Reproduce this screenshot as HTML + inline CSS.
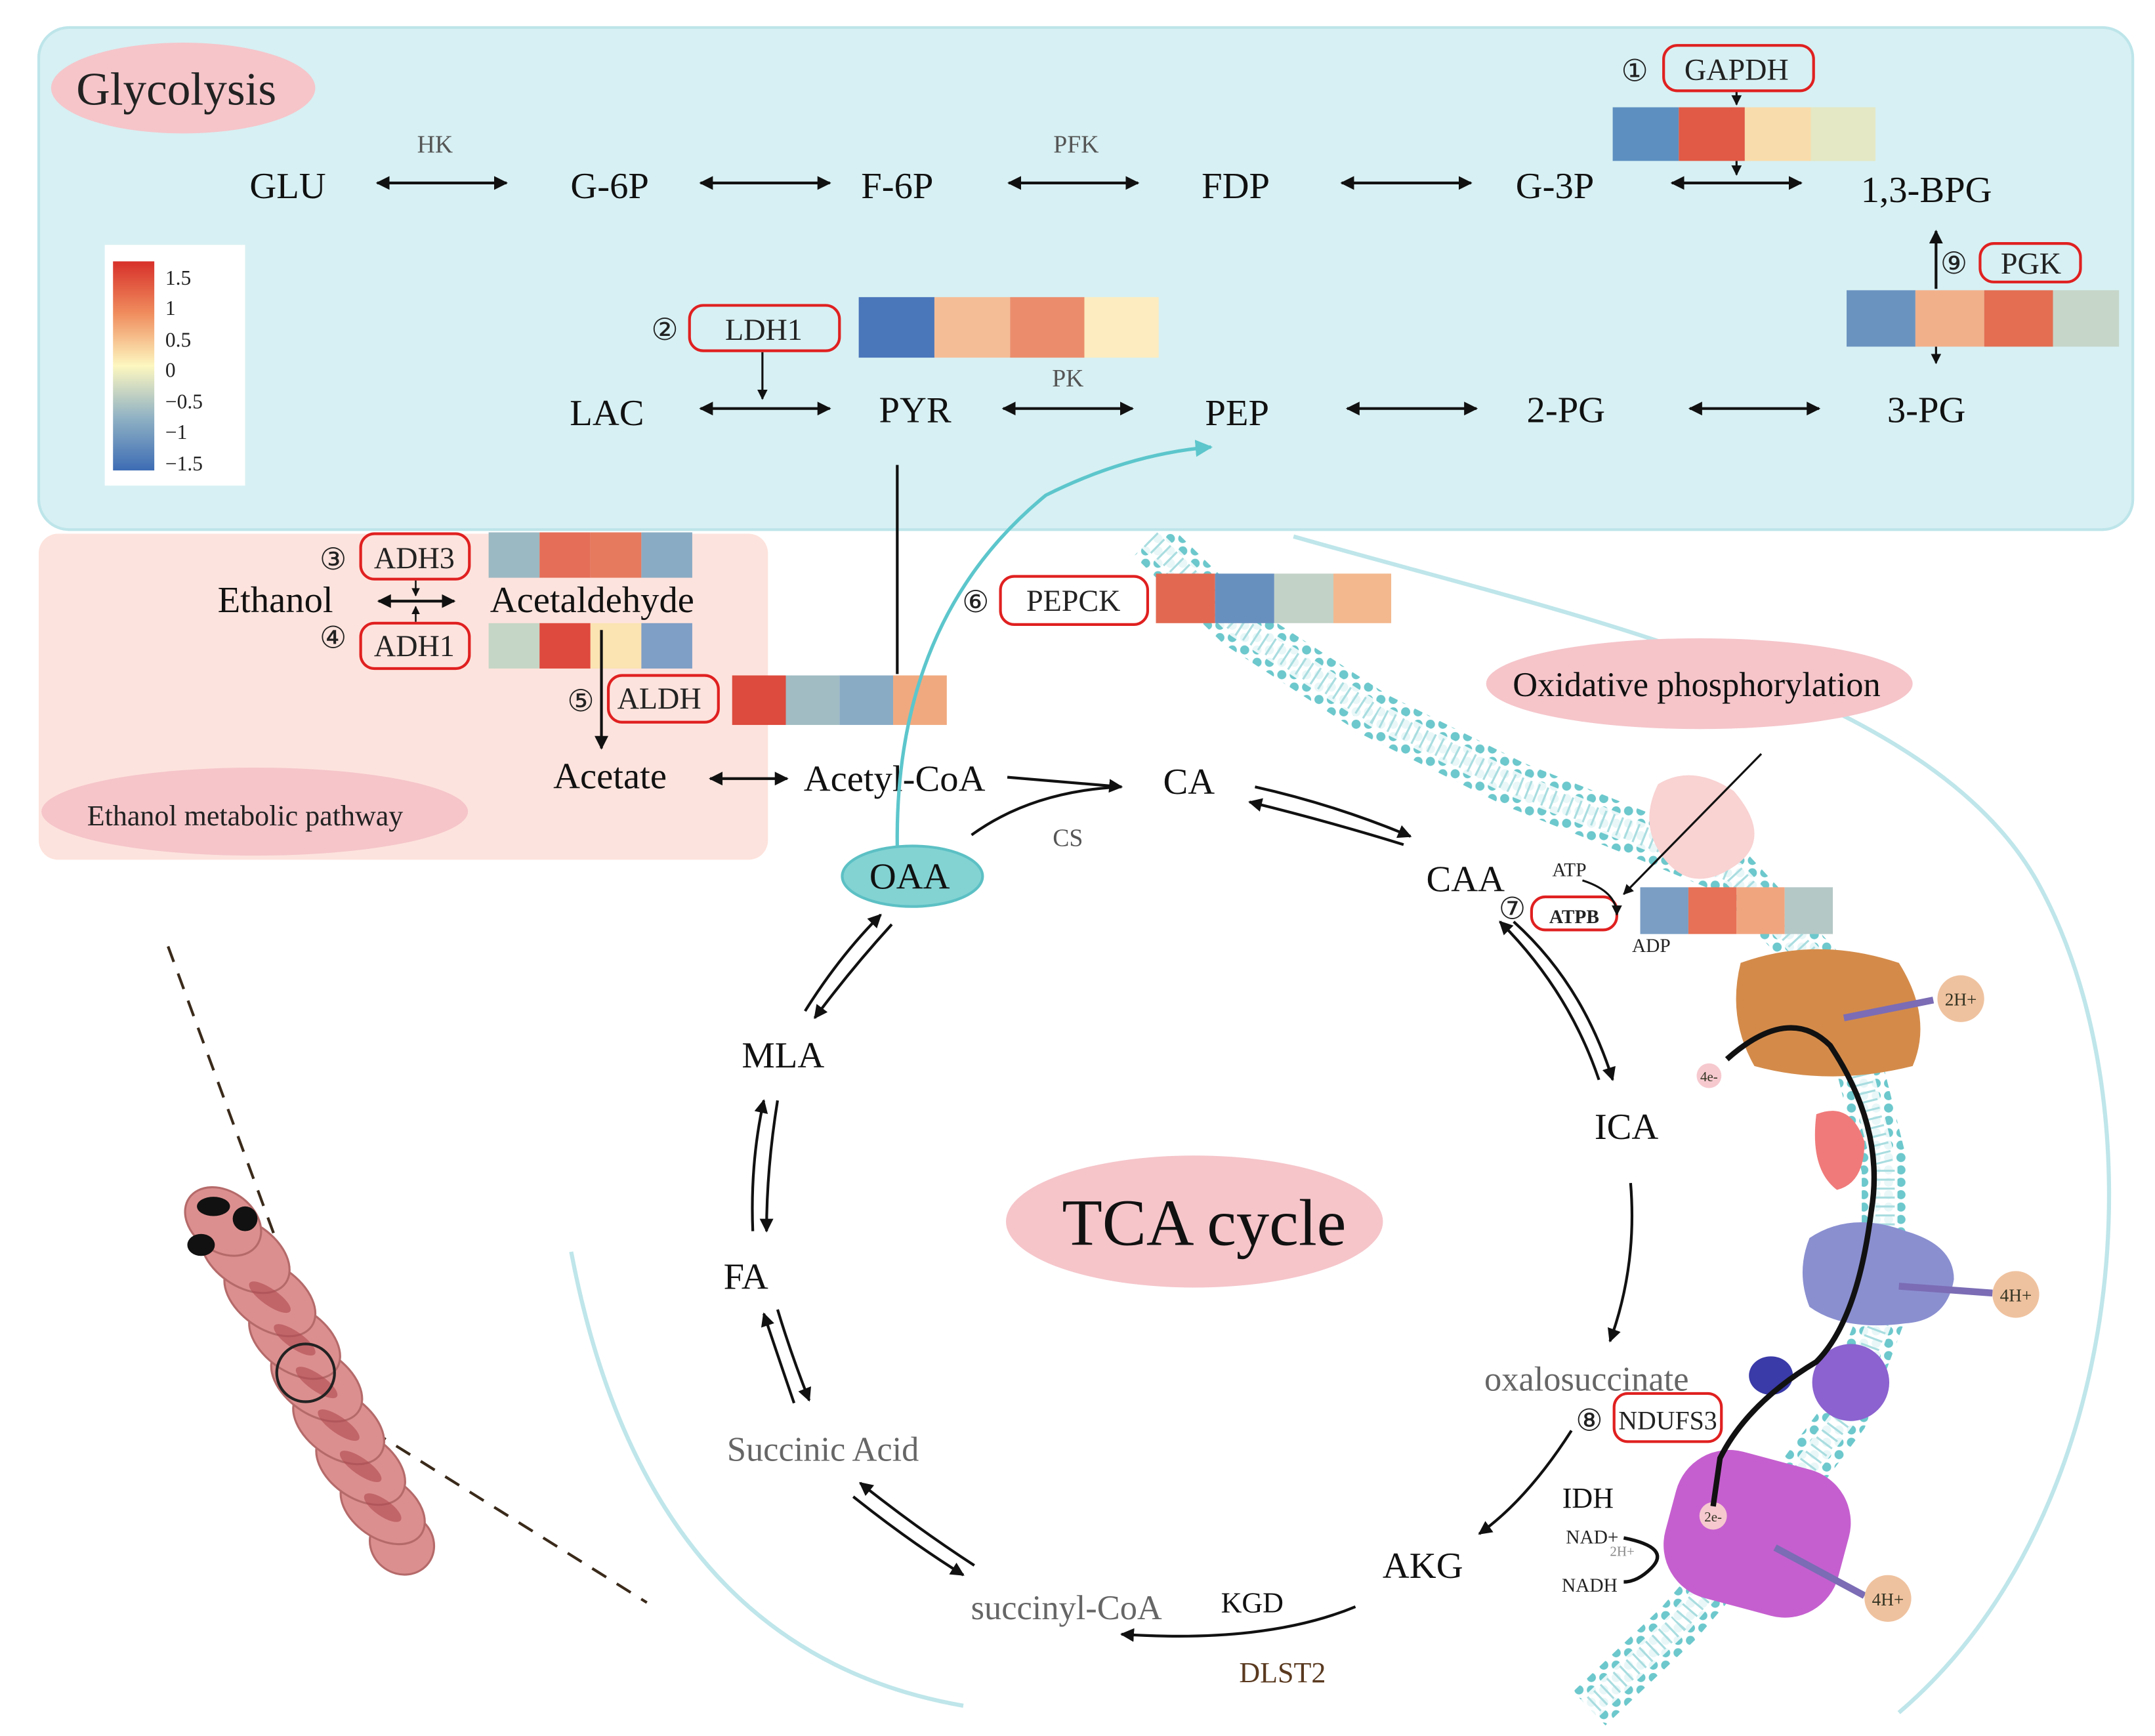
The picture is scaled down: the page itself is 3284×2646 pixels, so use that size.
<!DOCTYPE html>
<html><head><meta charset="utf-8"><style>
html,body{margin:0;padding:0;background:#fff;}
svg{display:block;}
text{font-family:"Liberation Serif",serif;}
</style></head><body>
<svg width="3284" height="2646" viewBox="0 0 1566 1262" xmlns="http://www.w3.org/2000/svg">
<defs>
<marker id="ah" viewBox="0 0 10 10" refX="9" refY="5" markerWidth="5" markerHeight="5" orient="auto-start-reverse"><path d="M0,0 L10,5 L0,10 z" fill="#111"/></marker>
<marker id="ahc" viewBox="0 0 10 10" refX="9" refY="5" markerWidth="5" markerHeight="5" orient="auto"><path d="M0,0 L10,5 L0,10 z" fill="#5cc6cc"/></marker>
<linearGradient id="lg" x1="0" y1="0" x2="0" y2="1">
<stop offset="0" stop-color="#d7302a"/><stop offset="0.25" stop-color="#f08d5e"/><stop offset="0.5" stop-color="#fdf7c0"/><stop offset="0.75" stop-color="#8fb1c4"/><stop offset="1" stop-color="#3d6cb4"/></linearGradient>
<pattern id="mem" width="9" height="9" patternUnits="userSpaceOnUse"><circle cx="4.5" cy="4.5" r="3.3" fill="#6cc8cc"/></pattern>
</defs>

<!-- cell boundary arcs -->
<path d="M415,910 Q470,1200 700,1240" fill="none" stroke="#bfe6ea" stroke-width="3"/>
<path d="M940,390 C1150,450 1400,500 1480,640 C1570,800 1550,1100 1380,1245" fill="none" stroke="#bfe6ea" stroke-width="3"/>

<!-- membrane -->
<path d="M836,392 L900,455 L1000,520 L1100,570 L1200,610 L1260,635 L1320,700 L1350,770 L1370,850 L1370,950 L1340,1030 L1280,1110 L1220,1180 L1155,1242" fill="none" stroke="url(#mem)" stroke-width="34"/>
<path d="M836,392 L900,455 L1000,520 L1100,570 L1200,610 L1260,635 L1320,700 L1350,770 L1370,850 L1370,950 L1340,1030 L1280,1110 L1220,1180 L1155,1242" fill="none" stroke="#ffffff" stroke-width="18" opacity="0.85"/>
<path d="M836,392 L900,455 L1000,520 L1100,570 L1200,610 L1260,635 L1320,700 L1350,770 L1370,850 L1370,950 L1340,1030 L1280,1110 L1220,1180 L1155,1242" fill="none" stroke="#a9dde0" stroke-width="14" stroke-dasharray="1.5 5"/>

<!-- Glycolysis panel -->
<rect x="28" y="20" width="1522" height="365" rx="22" fill="#d7f0f3" stroke="#bde5ea" stroke-width="2"/>
<!-- Ethanol panel -->
<rect x="28" y="388" width="530" height="237" rx="14" fill="#fde3dd"/>

<ellipse cx="133" cy="64" rx="96" ry="33" fill="#f5c5ca"/>
<text x="128" y="76" font-size="34" text-anchor="middle" fill="#222">Glycolysis</text>
<ellipse cx="185" cy="590" rx="155" ry="32" fill="#f5c5ca"/>
<text x="178" y="600" font-size="21" text-anchor="middle" fill="#222">Ethanol metabolic pathway</text>

<!-- legend -->
<rect x="76" y="178" width="102" height="175" fill="#fff"/>
<rect x="82" y="190" width="30" height="152" fill="url(#lg)"/>
<g font-family="Liberation Sans" font-size="15" fill="#222">
<text x="120" y="207">1.5</text><text x="120" y="229">1</text><text x="120" y="252">0.5</text><text x="120" y="274">0</text><text x="120" y="297">−0.5</text><text x="120" y="319">−1</text><text x="120" y="342">−1.5</text></g>

<!-- glycolysis nodes -->
<g font-size="27" fill="#111" text-anchor="middle">
<text x="209" y="144">GLU</text><text x="443" y="144">G-6P</text><text x="652" y="144">F-6P</text><text x="898" y="144">FDP</text><text x="1130" y="144">G-3P</text><text x="1400" y="147">1,3-BPG</text>
<text x="441" y="309">LAC</text><text x="665" y="307">PYR</text><text x="899" y="309">PEP</text><text x="1138" y="307">2-PG</text><text x="1400" y="307">3-PG</text>
</g>
<g font-size="18" fill="#555" text-anchor="middle"><text x="316" y="111">HK</text><text x="782" y="111">PFK</text><text x="776" y="281">PK</text></g>
<g stroke="#111" stroke-width="2" marker-start="url(#ah)" marker-end="url(#ah)">
<line x1="274" y1="133" x2="368" y2="133"/><line x1="509" y1="133" x2="603" y2="133"/><line x1="733" y1="133" x2="827" y2="133"/><line x1="975" y1="133" x2="1069" y2="133"/><line x1="1215" y1="133" x2="1309" y2="133"/>
<line x1="509" y1="297" x2="603" y2="297"/><line x1="729" y1="297" x2="823" y2="297"/><line x1="979" y1="297" x2="1073" y2="297"/><line x1="1228" y1="297" x2="1322" y2="297"/>
</g>
<line x1="1262" y1="66" x2="1262" y2="76" stroke="#111" stroke-width="1.5" marker-end="url(#ah)"/>
<line x1="1262" y1="117" x2="1262" y2="127" stroke="#111" stroke-width="1.5" marker-end="url(#ah)"/>
<line x1="1407" y1="210" x2="1407" y2="168" stroke="#111" stroke-width="2" marker-end="url(#ah)"/>
<line x1="1407" y1="252" x2="1407" y2="264" stroke="#111" stroke-width="1.5" marker-end="url(#ah)"/>
<line x1="554" y1="256" x2="554" y2="290" stroke="#111" stroke-width="1.5" marker-end="url(#ah)"/>
<line x1="652" y1="338" x2="652" y2="490" stroke="#111" stroke-width="2"/>

<!-- enzyme labels -->
<g font-size="22" fill="#222" text-anchor="middle">
<rect x="1209" y="33" width="109" height="33" rx="10" fill="none" stroke="#e02020" stroke-width="2"/><text x="1262" y="58">GAPDH</text><text x="1188" y="59">①</text>
<rect x="1439" y="177" width="73" height="28" rx="10" fill="none" stroke="#e02020" stroke-width="2"/><text x="1476" y="199">PGK</text><text x="1420" y="199">⑨</text>
<rect x="501" y="222" width="109" height="33" rx="10" fill="none" stroke="#e02020" stroke-width="2"/><text x="555" y="247">LDH1</text><text x="483" y="247">②</text>
<rect x="262" y="388" width="79" height="33" rx="10" fill="none" stroke="#e02020" stroke-width="2"/><text x="301" y="413">ADH3</text><text x="242" y="414">③</text>
<rect x="262" y="453" width="79" height="33" rx="10" fill="none" stroke="#e02020" stroke-width="2"/><text x="301" y="477">ADH1</text><text x="242" y="471">④</text>
<rect x="442" y="491" width="80" height="34" rx="10" fill="none" stroke="#e02020" stroke-width="2"/><text x="479" y="515">ALDH</text><text x="422" y="517">⑤</text>
<rect x="727" y="419" width="107" height="35" rx="10" fill="none" stroke="#e02020" stroke-width="2"/><text x="780" y="444">PEPCK</text><text x="709" y="445">⑥</text>
<rect x="1173" y="1013" width="78" height="35" rx="10" fill="none" stroke="#e02020" stroke-width="2"/><text x="1212" y="1039" font-size="19">NDUFS3</text><text x="1155" y="1040">⑧</text>
<rect x="1113" y="652" width="62" height="24" rx="10" fill="none" stroke="#e02020" stroke-width="2"/><text x="1144" y="671" font-size="14" font-weight="bold">ATPB</text><text x="1099" y="668">⑦</text>
</g>

<!-- heatmaps -->
<g>
<rect x="1172" y="78" width="48" height="39" fill="#5d8fc0"/><rect x="1220" y="78" width="48" height="39" fill="#e05a45"/><rect x="1268" y="78" width="48" height="39" fill="#f9dcab"/><rect x="1316" y="78" width="47" height="39" fill="#e4e8c4"/>
<rect x="1342" y="211" width="50" height="41" fill="#6a93c0"/><rect x="1392" y="211" width="50" height="41" fill="#f2b08a"/><rect x="1442" y="211" width="50" height="41" fill="#e36e52"/><rect x="1492" y="211" width="48" height="41" fill="#c6d6c9"/>
<rect x="624" y="216" width="55" height="44" fill="#4a76ba"/><rect x="679" y="216" width="55" height="44" fill="#f5bd96"/><rect x="734" y="216" width="54" height="44" fill="#eb8d6c"/><rect x="788" y="216" width="54" height="44" fill="#fcecc0"/>
<rect x="355" y="387" width="37" height="33" fill="#9bb9c2"/><rect x="392" y="387" width="37" height="33" fill="#e46e58"/><rect x="429" y="387" width="37" height="33" fill="#e67a5e"/><rect x="466" y="387" width="37" height="33" fill="#8aabc4"/>
<rect x="355" y="453" width="37" height="33" fill="#c5d6c6"/><rect x="392" y="453" width="37" height="33" fill="#df4a3e"/><rect x="429" y="453" width="37" height="33" fill="#fbe3b2"/><rect x="466" y="453" width="37" height="33" fill="#7f9fc6"/>
<rect x="532" y="491" width="39" height="36" fill="#dc4b3d"/><rect x="571" y="491" width="39" height="36" fill="#a1bcc3"/><rect x="610" y="491" width="39" height="36" fill="#8aabc4"/><rect x="649" y="491" width="39" height="36" fill="#f0a97f"/>
<rect x="840" y="417" width="43" height="36" fill="#e26851"/><rect x="883" y="417" width="43" height="36" fill="#6890bf"/><rect x="926" y="417" width="43" height="36" fill="#c2d2c6"/><rect x="969" y="417" width="42" height="36" fill="#f3b88e"/>
<rect x="1192" y="645" width="35" height="34" fill="#7a9ec4"/><rect x="1227" y="645" width="35" height="34" fill="#e67156"/><rect x="1262" y="645" width="35" height="34" fill="#f1a57f"/><rect x="1297" y="645" width="35" height="34" fill="#b4c8c6"/>
</g>

<!-- ethanol pathway -->
<g font-size="27" fill="#111"><text x="158" y="445">Ethanol</text><text x="356" y="445">Acetaldehyde</text><text x="402" y="573">Acetate</text><text x="584" y="575">Acetyl-CoA</text></g>
<line x1="275" y1="437" x2="330" y2="437" stroke="#111" stroke-width="2" marker-start="url(#ah)" marker-end="url(#ah)"/>
<line x1="302" y1="422" x2="302" y2="433" stroke="#111" stroke-width="1.2" marker-end="url(#ah)"/>
<line x1="302" y1="452" x2="302" y2="441" stroke="#111" stroke-width="1.2" marker-end="url(#ah)"/>
<line x1="437" y1="458" x2="437" y2="544" stroke="#111" stroke-width="2" marker-end="url(#ah)"/>
<line x1="516" y1="566" x2="572" y2="566" stroke="#111" stroke-width="2" marker-start="url(#ah)" marker-end="url(#ah)"/>

<!-- proteins -->
<path d="M1205,570 Q1230,555 1260,575 Q1290,610 1260,630 Q1230,650 1210,625 Q1190,600 1205,570z" fill="#f9d2d2"/>
<line x1="1280" y1="548" x2="1180" y2="650" stroke="#111" stroke-width="1.5" marker-end="url(#ah)"/>
<path d="M1265,700 Q1320,680 1380,700 Q1405,740 1390,775 Q1330,790 1275,775 Q1255,740 1265,700z" fill="#d48b4a"/>
<path d="M1320,810 Q1345,800 1355,830 Q1355,860 1335,865 Q1315,850 1320,810z" fill="#f07a7a"/>
<path d="M1315,900 Q1345,880 1385,895 Q1420,905 1420,930 Q1415,960 1385,962 Q1340,968 1315,950 Q1305,925 1315,900z" fill="#8a8fd0"/>
<ellipse cx="1345" cy="1005" rx="28" ry="28" fill="#8b62cf"/>
<ellipse cx="1287" cy="1000" rx="16" ry="14" fill="#3a3aa8"/>
<rect x="1212" y="1060" width="130" height="110" rx="40" fill="#c55fcf" transform="rotate(15 1277 1115)"/>
<line x1="1340" y1="740" x2="1405" y2="727" stroke="#7b6cb5" stroke-width="5"/>
<line x1="1380" y1="935" x2="1448" y2="940" stroke="#7b6cb5" stroke-width="5"/>
<line x1="1290" y1="1125" x2="1355" y2="1160" stroke="#7b6cb5" stroke-width="5"/>
<g font-size="13" fill="#332" text-anchor="middle">
<circle cx="1425" cy="726" r="17" fill="#efc29f"/><text x="1425" y="731">2H+</text>
<circle cx="1465" cy="941" r="17" fill="#efc29f"/><text x="1465" y="946">4H+</text>
<circle cx="1372" cy="1162" r="17" fill="#efc29f"/><text x="1372" y="1167">4H+</text>
<circle cx="1242" cy="782" r="9" fill="#f6c9cf"/><text x="1242" y="786" font-size="10">4e-</text>
<circle cx="1245" cy="1102" r="10" fill="#f6c9cf"/><text x="1245" y="1106" font-size="10">2e-</text>
</g>
<path d="M1255,770 Q1300,730 1330,760 Q1370,820 1360,880 Q1350,960 1320,990 Q1270,1020 1250,1060 L1245,1095" fill="none" stroke="#111" stroke-width="4"/>
<g font-size="14" fill="#222"><text x="1128" y="637">ATP</text><text x="1186" y="692">ADP</text><text x="1138" y="1122">NAD+</text><text x="1170" y="1131" font-size="10" fill="#888">2H+</text><text x="1135" y="1157">NADH</text></g>
<path d="M1150,640 Q1175,648 1175,665" fill="none" stroke="#111" stroke-width="1.5" marker-end="url(#ah)"/>
<path d="M1180,1118 Q1215,1125 1200,1140 Q1190,1150 1180,1150" fill="none" stroke="#111" stroke-width="2.5"/>

<ellipse cx="1235" cy="497" rx="155" ry="33" fill="#f5c5ca"/>
<text x="1233" y="506" font-size="25" text-anchor="middle" fill="#111">Oxidative phosphorylation</text>

<!-- TCA -->
<ellipse cx="868" cy="888" rx="137" ry="48" fill="#f5c5ca"/>
<text x="875" y="905" font-size="48" text-anchor="middle" fill="#111">TCA cycle</text>
<path d="M652,615 Q650,450 760,360 Q820,330 880,325" fill="none" stroke="#5cc6cc" stroke-width="2.5" marker-end="url(#ahc)"/>
<ellipse cx="663" cy="637" rx="51" ry="22" fill="#83d3d3" stroke="#5cc0c4" stroke-width="2"/>
<text x="661" y="646" font-size="27" text-anchor="middle" fill="#111">OAA</text>
<g font-size="27" fill="#111" text-anchor="middle">
<text x="864" y="577">CA</text><text x="1065" y="648">CAA</text><text x="1182" y="828">ICA</text><text x="1034" y="1147">AKG</text><text x="569" y="776">MLA</text><text x="542" y="937">FA</text>
</g>
<g font-size="25" fill="#666" text-anchor="middle"><text x="1153" y="1011">oxalosuccinate</text><text x="598" y="1062">Succinic Acid</text><text x="775" y="1177">succinyl-CoA</text></g>
<text x="776" y="615" font-size="18" fill="#555" text-anchor="middle">CS</text>
<text x="1154" y="1096" font-size="21" fill="#111" text-anchor="middle">IDH</text>
<text x="910" y="1172" font-size="21" fill="#111" text-anchor="middle">KGD</text>
<text x="932" y="1223" font-size="21" fill="#5a3a20" text-anchor="middle">DLST2</text>

<g fill="none" stroke="#111" stroke-width="2">
<path d="M732,565 L815,572" marker-end="url(#ah)"/>
<path d="M706,607 Q750,575 815,572"/>
<path d="M912,572 Q970,585 1025,608" marker-end="url(#ah)"/>
<path d="M1020,614 Q965,597 908,583" marker-end="url(#ah)"/>
<path d="M1100,670 Q1150,715 1172,785" marker-end="url(#ah)"/>
<path d="M1162,785 Q1140,720 1090,670" marker-end="url(#ah)"/>
<path d="M1185,860 Q1190,920 1170,975" marker-end="url(#ah)"/>
<path d="M1142,1040 Q1110,1090 1075,1115" marker-end="url(#ah)"/>
<path d="M985,1168 Q920,1195 815,1188" marker-end="url(#ah)"/>
<path d="M708,1138 Q665,1110 625,1078" marker-end="url(#ah)"/>
<path d="M620,1088 Q660,1120 700,1145" marker-end="url(#ah)"/>
<path d="M577,1020 Q565,985 555,955" marker-end="url(#ah)"/>
<path d="M565,952 Q575,985 588,1018" marker-end="url(#ah)"/>
<path d="M547,895 Q545,845 555,800" marker-end="url(#ah)"/>
<path d="M565,800 Q557,850 557,895" marker-end="url(#ah)"/>
<path d="M585,735 Q610,695 640,665" marker-end="url(#ah)"/>
<path d="M648,672 Q618,705 592,740" marker-end="url(#ah)"/>
</g>

<!-- larva -->
<path d="M122,688 L200,900" stroke="#3a2a1a" stroke-width="2" stroke-dasharray="12 9"/>
<path d="M270,1040 L470,1165" stroke="#3a2a1a" stroke-width="2" stroke-dasharray="12 9"/>
<g fill="#dc8f8f" stroke="#b56a6a" stroke-width="1.5">
<ellipse cx="292" cy="1122" rx="24" ry="22" transform="rotate(35 292 1122)"/>
<ellipse cx="278" cy="1096" rx="34" ry="22" transform="rotate(35 278 1096)"/>
<ellipse cx="262" cy="1066" rx="36" ry="23" transform="rotate(35 262 1066)"/>
<ellipse cx="246" cy="1036" rx="37" ry="23" transform="rotate(35 246 1036)"/>
<ellipse cx="230" cy="1005" rx="37" ry="23" transform="rotate(35 230 1005)"/>
<ellipse cx="214" cy="974" rx="37" ry="23" transform="rotate(35 214 974)"/>
<ellipse cx="196" cy="943" rx="37" ry="23" transform="rotate(35 196 943)"/>
<ellipse cx="178" cy="912" rx="36" ry="23" transform="rotate(35 178 912)"/>
<ellipse cx="162" cy="888" rx="30" ry="22" transform="rotate(35 162 888)"/>
</g>
<g fill="#b04a50" opacity="0.6">
<ellipse cx="262" cy="1066" rx="18" ry="6" transform="rotate(35 262 1066)"/>
<ellipse cx="230" cy="1005" rx="18" ry="6" transform="rotate(35 230 1005)"/>
<ellipse cx="196" cy="943" rx="18" ry="6" transform="rotate(35 196 943)"/>
<ellipse cx="278" cy="1096" rx="16" ry="6" transform="rotate(35 278 1096)"/>
<ellipse cx="246" cy="1036" rx="18" ry="6" transform="rotate(35 246 1036)"/>
<ellipse cx="214" cy="974" rx="18" ry="6" transform="rotate(35 214 974)"/>
</g>
<ellipse cx="155" cy="877" rx="12" ry="7" fill="#111"/><ellipse cx="178" cy="886" rx="9" ry="9" fill="#111"/><ellipse cx="146" cy="905" rx="10" ry="8" fill="#111"/>
<circle cx="222" cy="998" r="21" fill="none" stroke="#222" stroke-width="2"/>
</svg>
</body></html>
